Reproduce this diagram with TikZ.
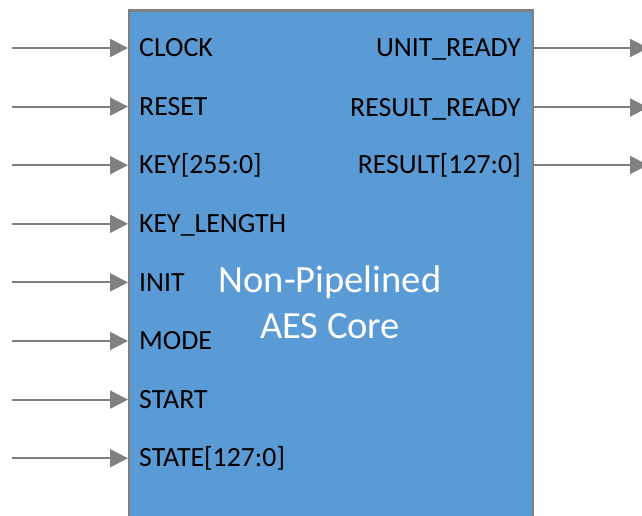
\documentclass[tikz,border=0pt]{standalone}
\usepackage{fontspec}
\setmainfont{Carlito}
\usetikzlibrary{positioning, arrows.meta}
\definecolor{coreblue}{HTML}{5B9BD5}
\definecolor{pingray}{HTML}{808080}
\tikzset{
  pin/.style={draw=pingray, line width=2pt, ->},
  pinlabel/.style={font=\fontsize{27.8}{32}\selectfont, inner xsep=11pt, inner ysep=0pt, text height=17.5pt, text depth=0pt}
}

\begin{document}
\begin{tikzpicture}[x=1pt, y=-1pt, >={Triangle[length=18pt, width=18pt]}]
		\useasboundingbox (0,0) rectangle (642,516);
		\clip (0,0) rectangle (642,516);
		
		% Draw core block
		\node[draw=pingray, line width=2.3pt, fill=coreblue, minimum width=404pt, minimum height=560pt, inner sep=0pt, anchor=north west] (core) at (128,9.5) {};
		\node[text=white, font=\fontsize{38.5}{46}\selectfont, align=center] (title) at (330,302) {Non-Pipelined\\AES Core};
		
		% Inputs
		\foreach \name/\txt [count=\i from 0] in {clk/CLOCK, rst/RESET, key/KEY[255:0], klen/KEY\_LENGTH, init/INIT, mode/MODE, start/START, state/STATE[127:0]}
		{
			\coordinate (in-\name) at (11.5, {48+58.6*\i});
			\node[pinlabel, anchor=west] (\name) at (128, {48+58.6*\i}) {\txt};
			\draw[pin] (in-\name) -- (\name.west);
		}
		
		% Outputs
		\foreach \name/\txt/\y in {urdy/UNIT\_READY/48, rrdy/RESULT\_READY/107.5, res/RESULT[127:0]/165}
		{
			\coordinate (out-\name) at (648, \y);
			\node[pinlabel, anchor=east] (\name) at (532, \y) {\txt};
			\draw[pin] (\name.east) -- (out-\name);
		}
		
	\end{tikzpicture}
\end{document}
